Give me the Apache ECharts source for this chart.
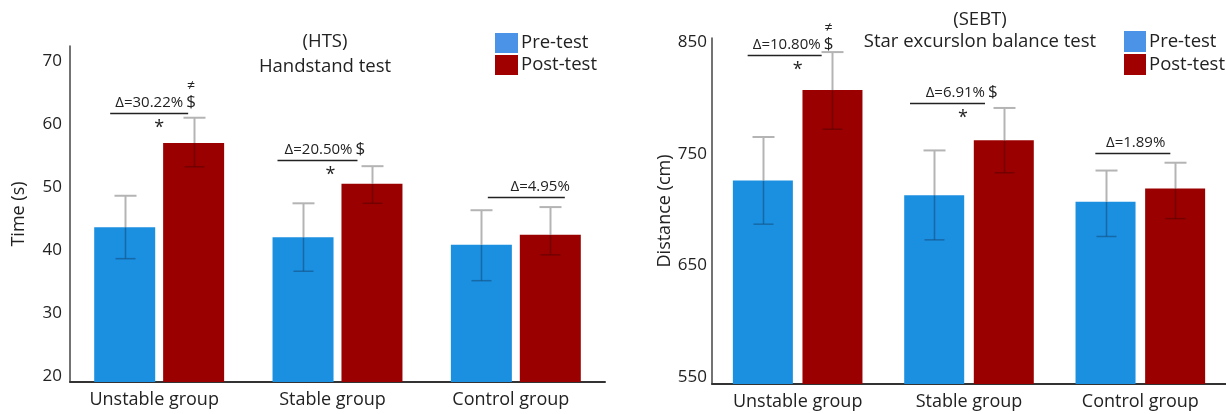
<!DOCTYPE html>
<html>
<head>
<meta charset="utf-8">
<script src="https://cdn.jsdelivr.net/npm/echarts@6/dist/echarts.min.js"></script>
<style>
  html, body { margin: 0; padding: 0; background: #fff; }
  #chart { width: 1226px; height: 414px; }
</style>
</head>
<body>
<div id="chart"></div>
<script>
// categories / series
const groups = ['Unstable group', 'Stable group', 'Control group'];

// Handstand test (s)
const htsPre = [43.6, 42.0, 40.8];
const htsPost = [57.0, 50.5, 42.4];
const htsPreLo = [38.6, 36.6, 35.1];
const htsPreHi = [48.6, 47.4, 46.3];
const htsPostLo = [53.2, 47.4, 39.2];
const htsPostHi = [61.0, 53.3, 46.8];
const htsTicks = [20, 30, 40, 50, 60, 70];
const htsDelta = ['Δ=30.22%', 'Δ=20.50%', 'Δ=4.95%'];
const htsDollar = [true, true, false];
const htsNeq = [true, false, false];
const htsStar = [true, true, false];
const htsLineAt = [61.8, 54.3, 48.4];

// Star excursion balance test (cm)
const sebtPre = [726, 713, 707];
const sebtPost = [807, 762, 719];
const sebtPreLo = [687, 673, 676];
const sebtPreHi = [765, 753, 735];
const sebtPostLo = [772, 733, 692];
const sebtPostHi = [841, 791, 742];
const sebtTicks = [550, 650, 750, 850];
const sebtDelta = ['Δ=10.80%', 'Δ=6.91%', 'Δ=1.89%'];
const sebtDollar = [true, true, false];
const sebtNeq = [true, false, false];
const sebtStar = [true, true, false];
const sebtLineAt = [838, 795, 751];

// pixel offsets for annotation placement (relative to category centre)
const htsLayout = [
  { l0: -49, l1: 29, tx: -5, sx: 0 },
  { l0: -60, l1: 20, tx: -5, sx: -7 },
  { l0: -28, l1: 49, tx: 5, sx: 0 }
];
const sebtLayout = [
  { l0: -50, l1: 24, tx: -1, sx: 0 },
  { l0: -59, l1: 16, tx: 0, sx: -6 },
  { l0: -45, l1: 30, tx: -5, sx: 0 }
];

const FONT = 'Open Sans';
const BLUE = '#1b8fe0';
const RED = '#9b0000';

function errData(lo, hi, mean) {
  return lo.map((v, i) => [i, v, hi[i], mean[i]]);
}

function errorItem(offset, inner) {
  return function (params, api) {
    const c = api.value(0);
    const pLo = api.coord([c, api.value(1)]);
    const pHi = api.coord([c, api.value(2)]);
    const pMid = api.coord([c, api.value(3)]);
    const x = Math.round(pHi[0] + offset) + 0.5;
    return {
      type: 'group',
      children: [
        { type: 'line', shape: { x1: x, y1: pMid[1], x2: x, y2: pHi[1] },
          style: { stroke: '#b4b4b4', lineWidth: 2 } },
        { type: 'line', shape: { x1: x - 11, y1: pHi[1], x2: x + 11, y2: pHi[1] },
          style: { stroke: '#b4b4b4', lineWidth: 2 } },
        { type: 'line', shape: { x1: x, y1: pMid[1], x2: x, y2: pLo[1] },
          style: { stroke: inner, lineWidth: 1.5 } },
        { type: 'line', shape: { x1: x - 10, y1: pLo[1], x2: x + 10, y2: pLo[1] },
          style: { stroke: inner, lineWidth: 1.5 } }
      ]
    };
  };
}

function annotItem(delta, dollar, neq, star, layout) {
  return function (params, api) {
    const i = params.dataIndex;
    const p = api.coord([api.value(0), api.value(1)]);
    const L = layout[i];
    const x0 = p[0] + L.l0, x1 = p[0] + L.l1, y = Math.round(p[1]) + 0.5;
    const tx = x1 + L.tx;
    const kids = [
      { type: 'line', shape: { x1: x0, y1: y, x2: x1, y2: y },
        style: { stroke: '#222', lineWidth: 1.5 } },
      { type: 'text', x: tx, y: y - 3,
        style: { text: delta[i], font: '15px "' + FONT + '"', fill: '#222',
                 textAlign: 'right', textVerticalAlign: 'bottom' } }
    ];
    if (dollar[i]) {
      kids.push({ type: 'text', x: tx + 3, y: y - 3,
        style: { text: '$', font: '17px "' + FONT + '"', fill: '#222',
                 textAlign: 'left', textVerticalAlign: 'bottom' } });
    }
    if (neq[i]) {
      kids.push({ type: 'text', x: tx + 8, y: y - 20,
        style: { text: '≠', font: '14px "' + FONT + '"', fill: '#222',
                 textAlign: 'center', textVerticalAlign: 'bottom' } });
    }
    if (star[i]) {
      kids.push({ type: 'text', x: p[0] + L.sx, y: y + 5,
        style: { text: '*', font: '18px "' + FONT + '"', fill: '#222',
                 textAlign: 'center', textVerticalAlign: 'top' } });
    }
    return { type: 'group', children: kids };
  };
}

const chart = echarts.init(document.getElementById('chart'), null, { renderer: 'canvas' });

const axisText = { fontFamily: FONT, color: '#222' };
const legendItems = [
  { name: 'Pre-test', itemStyle: { color: '#4a93e6' } },
  { name: 'Post-test', itemStyle: { color: '#a00000' } }
];

chart.setOption({
  backgroundColor: '#fff',
  animation: false,
  textStyle: { fontFamily: FONT },
  title: [
    { text: '(HTS)\nHandstand test', left: 325, top: 29, textAlign: 'center', padding: 0,
      textStyle: { fontFamily: FONT, fontSize: 18.5, fontWeight: 'normal', color: '#222', lineHeight: 25 } },
    { text: '(SEBT)\nStar excurslon balance test', left: 980, top: 9, textAlign: 'center', padding: 0,
      textStyle: { fontFamily: FONT, fontSize: 18.5, fontWeight: 'normal', color: '#222', lineHeight: 22 } }
  ],
  legend: [
    { orient: 'vertical', left: 495, top: 33, padding: 0, itemWidth: 23, itemHeight: 20, itemGap: 2,
      icon: 'rect', textStyle: { fontFamily: FONT, fontSize: 18.5, color: '#222', padding: [0, 0, 0, -2] },
      data: legendItems },
    { orient: 'vertical', left: 1124, top: 31, padding: 0, itemWidth: 22, itemHeight: 21, itemGap: 2,
      icon: 'rect', textStyle: { fontFamily: FONT, fontSize: 18.5, color: '#222', padding: [0, 0, 0, -2] },
      data: legendItems }
  ],
  grid: [
    { left: 70, right: 621, top: 46, bottom: 32 },
    { left: 712, right: 0, top: 38, bottom: 30 }
  ],
  xAxis: [
    { type: 'category', gridIndex: 0, data: groups,
      axisLine: { lineStyle: { color: '#333', width: 2 } }, axisTick: { show: false },
      axisLabel: Object.assign({ fontSize: 18, margin: 9, padding: [0, 10, 0, 0] }, axisText) },
    { type: 'category', gridIndex: 1, data: groups,
      axisLine: { lineStyle: { color: '#333', width: 2 } }, axisTick: { show: false },
      axisLabel: Object.assign({ fontSize: 18, margin: 9 }, axisText) }
  ],
  yAxis: [
    { type: 'value', gridIndex: 0, min: 19, max: 72.4,
      name: 'Time (s)', nameLocation: 'middle', nameGap: 42,
      nameTextStyle: Object.assign({ fontSize: 18 }, axisText),
      axisLine: { show: true, lineStyle: { color: '#444', width: 1.5 } },
      axisTick: { show: false }, splitLine: { show: false },
      axisLabel: Object.assign({ fontSize: 17, margin: 8, customValues: htsTicks }, axisText) },
    { type: 'value', gridIndex: 1, min: 544, max: 853.6,
      name: 'Distance (cm)', nameLocation: 'middle', nameGap: 38,
      nameTextStyle: Object.assign({ fontSize: 18 }, axisText),
      axisLine: { show: true, lineStyle: { color: '#444', width: 1.5 } },
      axisTick: { show: false }, splitLine: { show: false },
      axisLabel: Object.assign({ fontSize: 17, margin: 5, customValues: sebtTicks }, axisText) }
  ],
  series: [
    { name: 'Pre-test', type: 'bar', xAxisIndex: 0, yAxisIndex: 0, data: htsPre,
      barWidth: 61, barGap: '13%', itemStyle: { color: BLUE } },
    { name: 'Post-test', type: 'bar', xAxisIndex: 0, yAxisIndex: 0, data: htsPost,
      barWidth: 61, barGap: '13%', itemStyle: { color: RED } },
    { name: 'Pre-test', type: 'bar', xAxisIndex: 1, yAxisIndex: 1, data: sebtPre,
      barWidth: 60, barGap: '16%', itemStyle: { color: BLUE } },
    { name: 'Post-test', type: 'bar', xAxisIndex: 1, yAxisIndex: 1, data: sebtPost,
      barWidth: 60, barGap: '16%', itemStyle: { color: RED } },

    { type: 'custom', xAxisIndex: 0, yAxisIndex: 0, z: 5, silent: true,
      renderItem: errorItem(-34.5, 'rgba(20,80,130,0.6)'), data: errData(htsPreLo, htsPreHi, htsPre) },
    { type: 'custom', xAxisIndex: 0, yAxisIndex: 0, z: 5, silent: true,
      renderItem: errorItem(34.5, 'rgba(90,0,0,0.6)'), data: errData(htsPostLo, htsPostHi, htsPost) },
    { type: 'custom', xAxisIndex: 1, yAxisIndex: 1, z: 5, silent: true,
      renderItem: errorItem(-34.8, 'rgba(20,80,130,0.6)'), data: errData(sebtPreLo, sebtPreHi, sebtPre) },
    { type: 'custom', xAxisIndex: 1, yAxisIndex: 1, z: 5, silent: true,
      renderItem: errorItem(34.8, 'rgba(90,0,0,0.6)'), data: errData(sebtPostLo, sebtPostHi, sebtPost) },

    { type: 'custom', xAxisIndex: 0, yAxisIndex: 0, z: 6, silent: true,
      renderItem: annotItem(htsDelta, htsDollar, htsNeq, htsStar, htsLayout),
      data: htsLineAt.map((v, i) => [i, v]) },
    { type: 'custom', xAxisIndex: 1, yAxisIndex: 1, z: 6, silent: true,
      renderItem: annotItem(sebtDelta, sebtDollar, sebtNeq, sebtStar, sebtLayout),
      data: sebtLineAt.map((v, i) => [i, v]) }
  ]
});
</script>
</body>
</html>
